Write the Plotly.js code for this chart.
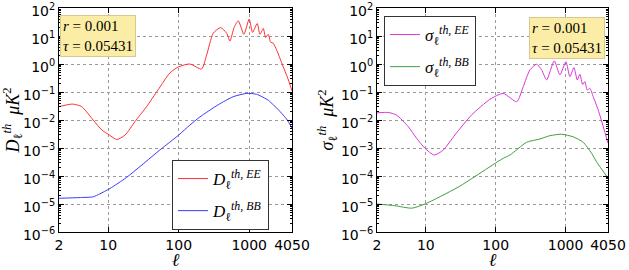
<!DOCTYPE html>
<html>
<head>
<meta charset="utf-8">
<script src="https://cdn.plot.ly/plotly-3.0.1.min.js"></script>
<style>html,body{margin:0;padding:0;background:#fff;}#plot{width:629px;height:270px;}</style>
</head>
<body>
<div id="plot"></div>
<script>
// ---- data ----
const ellDEE = [2, 3.1, 4.2, 6.1, 8.1, 10.4, 13.2, 17.3, 23.9, 35, 51, 75, 100, 144, 211, 249, 309, 393, 479, 533, 610, 700, 841, 1000, 1117, 1300, 1420, 1585, 1710, 1864, 2015, 2195, 2450, 2730, 3040, 3470, 4050];
const dEE    = [0.030, 0.037, 0.030, 0.010, 0.0044, 0.0029, 0.0020, 0.0029, 0.0087, 0.030, 0.12, 0.48, 0.80, 1.0, 0.66, 2.1, 12.6, 20, 12.6, 6.6, 20, 35, 11.5, 40, 13.5, 28, 11.5, 18.6, 8.9, 11.5, 6.0, 5.5, 3.2, 1.6, 0.79, 0.35, 0.11];

const ellDBB = [2, 4, 6.1, 7.6, 10.6, 18.2, 54, 100, 144, 200, 363, 593, 918, 1273, 1864, 2195, 2450, 3040, 3470, 4050];
const dBB    = [1.6e-5, 1.7e-5, 1.8e-5, 2.3e-5, 3.6e-5, 8.9e-5, 8.5e-4, 2.9e-3, 6.6e-3, 0.0129, 0.035, 0.068, 0.089, 0.083, 0.051, 0.035, 0.027, 0.015, 0.010, 0.0051];

const ellSEE = [2, 2.9, 3.8, 5.6, 7.4, 9.7, 13.2, 17.8, 26, 45, 83, 128, 200, 248, 309, 385, 454, 535, 689, 830, 1012, 1153, 1318, 1470, 1604, 1753, 1891, 2042, 2230, 2490, 2930, 3460, 4050];
const sEE    = [0.018, 0.0186, 0.015, 0.0058, 0.0022, 0.00098, 0.00056, 0.00085, 0.0029, 0.015, 0.055, 0.089, 0.045, 0.155, 0.62, 0.98, 0.62, 0.27, 1.29, 0.41, 1.2, 0.355, 0.74, 0.27, 0.43, 0.186, 0.234, 0.117, 0.135, 0.068, 0.023, 0.0058, 0.0015];

const ellSBB = [2, 3.6, 6.3, 9.7, 29, 128, 160, 277, 430, 597, 877, 1288, 1790, 2360, 2780, 4050];
const sBB    = [1.0e-5, 8.7e-6, 7.1e-6, 1.0e-5, 4.0e-5, 4.3e-4, 5.6e-4, 1.6e-3, 2.1e-3, 2.75e-3, 3.1e-3, 2.5e-3, 1.6e-3, 6.5e-4, 3.2e-4, 8.5e-5];

const xTickVals = [2, 10, 100, 1000, 4050];
const xTickText = ['2', '10', '100', '1000', '4050'];
const yTickVals = [1e-6, 1e-5, 1e-4, 1e-3, 1e-2, 1e-1, 1e0, 1e1, 1e2];
const yTickText = ['10<sup>\u22126</sup>', '10<sup>\u22125</sup>', '10<sup>\u22124</sup>', '10<sup>\u22123</sup>', '10<sup>\u22122</sup>', '10<sup>\u22121</sup>', '10<sup>0</sup>', '10<sup>1</sup>', '10<sup>2</sup>'];

const paramText = '<i>r</i> = 0.001<br><i>\u03c4</i> = 0.05431';

// ---- styling ----
const W = 629, H = 270;
const mathFont = 'Liberation Serif, DejaVu Serif, serif';
const tickFont = {family: 'DejaVu Sans, sans-serif', size: 14, color: 'black'};

function xAx(dom, anchor) {
  return {
    domain: dom, anchor: anchor, type: 'log',
    range: [Math.log10(2), Math.log10(4050)],
    tickmode: 'array', tickvals: xTickVals, ticktext: xTickText,
    ticks: 'inside', ticklen: 5, tickcolor: 'black',
    showline: true, linecolor: 'black', linewidth: 1, mirror: 'allticks',
    showgrid: true, gridcolor: '#9a9a9a', griddash: 'dot', gridwidth: 1,
    zeroline: false, automargin: false, tickfont: tickFont, ticklabeloverflow: 'allow',
    title: {text: '<i>\u2113</i>', font: {family: mathFont, size: 18, color: 'black'}, standoff: 0}
  };
}
function yAx(anchor, titleText) {
  return {
    domain: [0, 1], anchor: anchor, type: 'log', range: [-6, 2.0001],
    tickmode: 'array', tickvals: yTickVals, ticktext: yTickText,
    ticks: 'inside', ticklen: 5, tickcolor: 'black', ticklabelshift: 3,
    minor: {ticks: 'inside', ticklen: 2, tickcolor: 'black', dtick: 'D1', showgrid: false},
    showline: true, linecolor: 'black', linewidth: 1, mirror: 'allticks',
    showgrid: true, gridcolor: '#9a9a9a', griddash: 'dot', gridwidth: 1,
    zeroline: false, automargin: false, tickfont: tickFont, ticklabeloverflow: 'allow',
    title: {text: titleText, font: {family: mathFont, size: 18, color: 'black'}, standoff: 2}
  };
}

const traces = [
  {x: ellDEE, y: dEE, type: 'scatter', mode: 'lines', xaxis: 'x', yaxis: 'y', legend: 'legend', legendgroup: 'a',
   name: '<i>D</i><sub>\u2113</sub><sup><i>th, EE</i></sup>', line: {color: '#ff3030', width: 1, shape: 'spline', smoothing: 0.6}},
  {x: ellDBB, y: dBB, type: 'scatter', mode: 'lines', xaxis: 'x', yaxis: 'y', legend: 'legend', legendgroup: 'b',
   name: '<i>D</i><sub>\u2113</sub><sup><i>th, BB</i></sup>', line: {color: '#3a3aff', width: 1, shape: 'spline', smoothing: 0.6}},
  {x: ellSEE, y: sEE, type: 'scatter', mode: 'lines', xaxis: 'x2', yaxis: 'y2', legend: 'legend2', legendgroup: 'c',
   name: '<i>\u03c3</i><sub>\u2113</sub><sup><i>th, EE</i></sup>', line: {color: '#d936d9', width: 1, shape: 'spline', smoothing: 0.6}},
  {x: ellSBB, y: sBB, type: 'scatter', mode: 'lines', xaxis: 'x2', yaxis: 'y2', legend: 'legend2', legendgroup: 'd',
   name: '<i>\u03c3</i><sub>\u2113</sub><sup><i>th, BB</i></sup>', line: {color: '#3f9f3f', width: 1, shape: 'spline', smoothing: 0.6}}
];

const legendFont = {family: mathFont, size: 17, color: 'black'};
const layout = {
  width: W, height: H,
  margin: {l: 0, r: 0, t: 8, b: 38, pad: 0},
  paper_bgcolor: 'white', plot_bgcolor: 'white',
  showlegend: true,
  xaxis: xAx([59 / W, 292 / W], 'y'),
  yaxis: yAx('x', '<i>D</i><sub>\u2113</sub><sup><i>th</i></sup>  <i>\u03bcK</i><sup>2</sup>'),
  xaxis2: xAx([377 / W, 608 / W], 'y2'),
  yaxis2: yAx('x2', '<i>\u03c3</i><sub>\u2113</sub><sup><i>th</i></sup>  <i>\u03bcK</i><sup>2</sup>'),
  legend: {x: 172 / W, y: 1 - (160 - 8) / 224, xanchor: 'left', yanchor: 'top', xref: 'paper', yref: 'paper',
           bgcolor: 'white', bordercolor: '#333', borderwidth: 1, font: legendFont, tracegroupgap: 7},
  legend2: {x: 384 / W, y: 1 - (16 - 8) / 224, xanchor: 'left', yanchor: 'top', xref: 'paper', yref: 'paper',
           bgcolor: 'white', bordercolor: '#333', borderwidth: 1, font: legendFont, tracegroupgap: 7},
  annotations: [
    {text: paramText, xref: 'paper', yref: 'paper', x: 60 / W, y: 1 - (15 - 8) / 224, xanchor: 'left', yanchor: 'top',
     showarrow: false, align: 'left', bgcolor: '#fbeda5', bordercolor: '#d6c98e', borderwidth: 1, borderpad: 2,
     font: {family: mathFont, size: 15, color: 'black'}},
    {text: paramText, xref: 'paper', yref: 'paper', x: 605 / W, y: 1 - (17 - 8) / 224, xanchor: 'right', yanchor: 'top',
     showarrow: false, align: 'left', bgcolor: '#fbeda5', bordercolor: '#d6c98e', borderwidth: 1, borderpad: 2,
     font: {family: mathFont, size: 15, color: 'black'}}
  ]
};

Plotly.newPlot('plot', traces, layout, {staticPlot: true, displayModeBar: false});
</script>
</body>
</html>
